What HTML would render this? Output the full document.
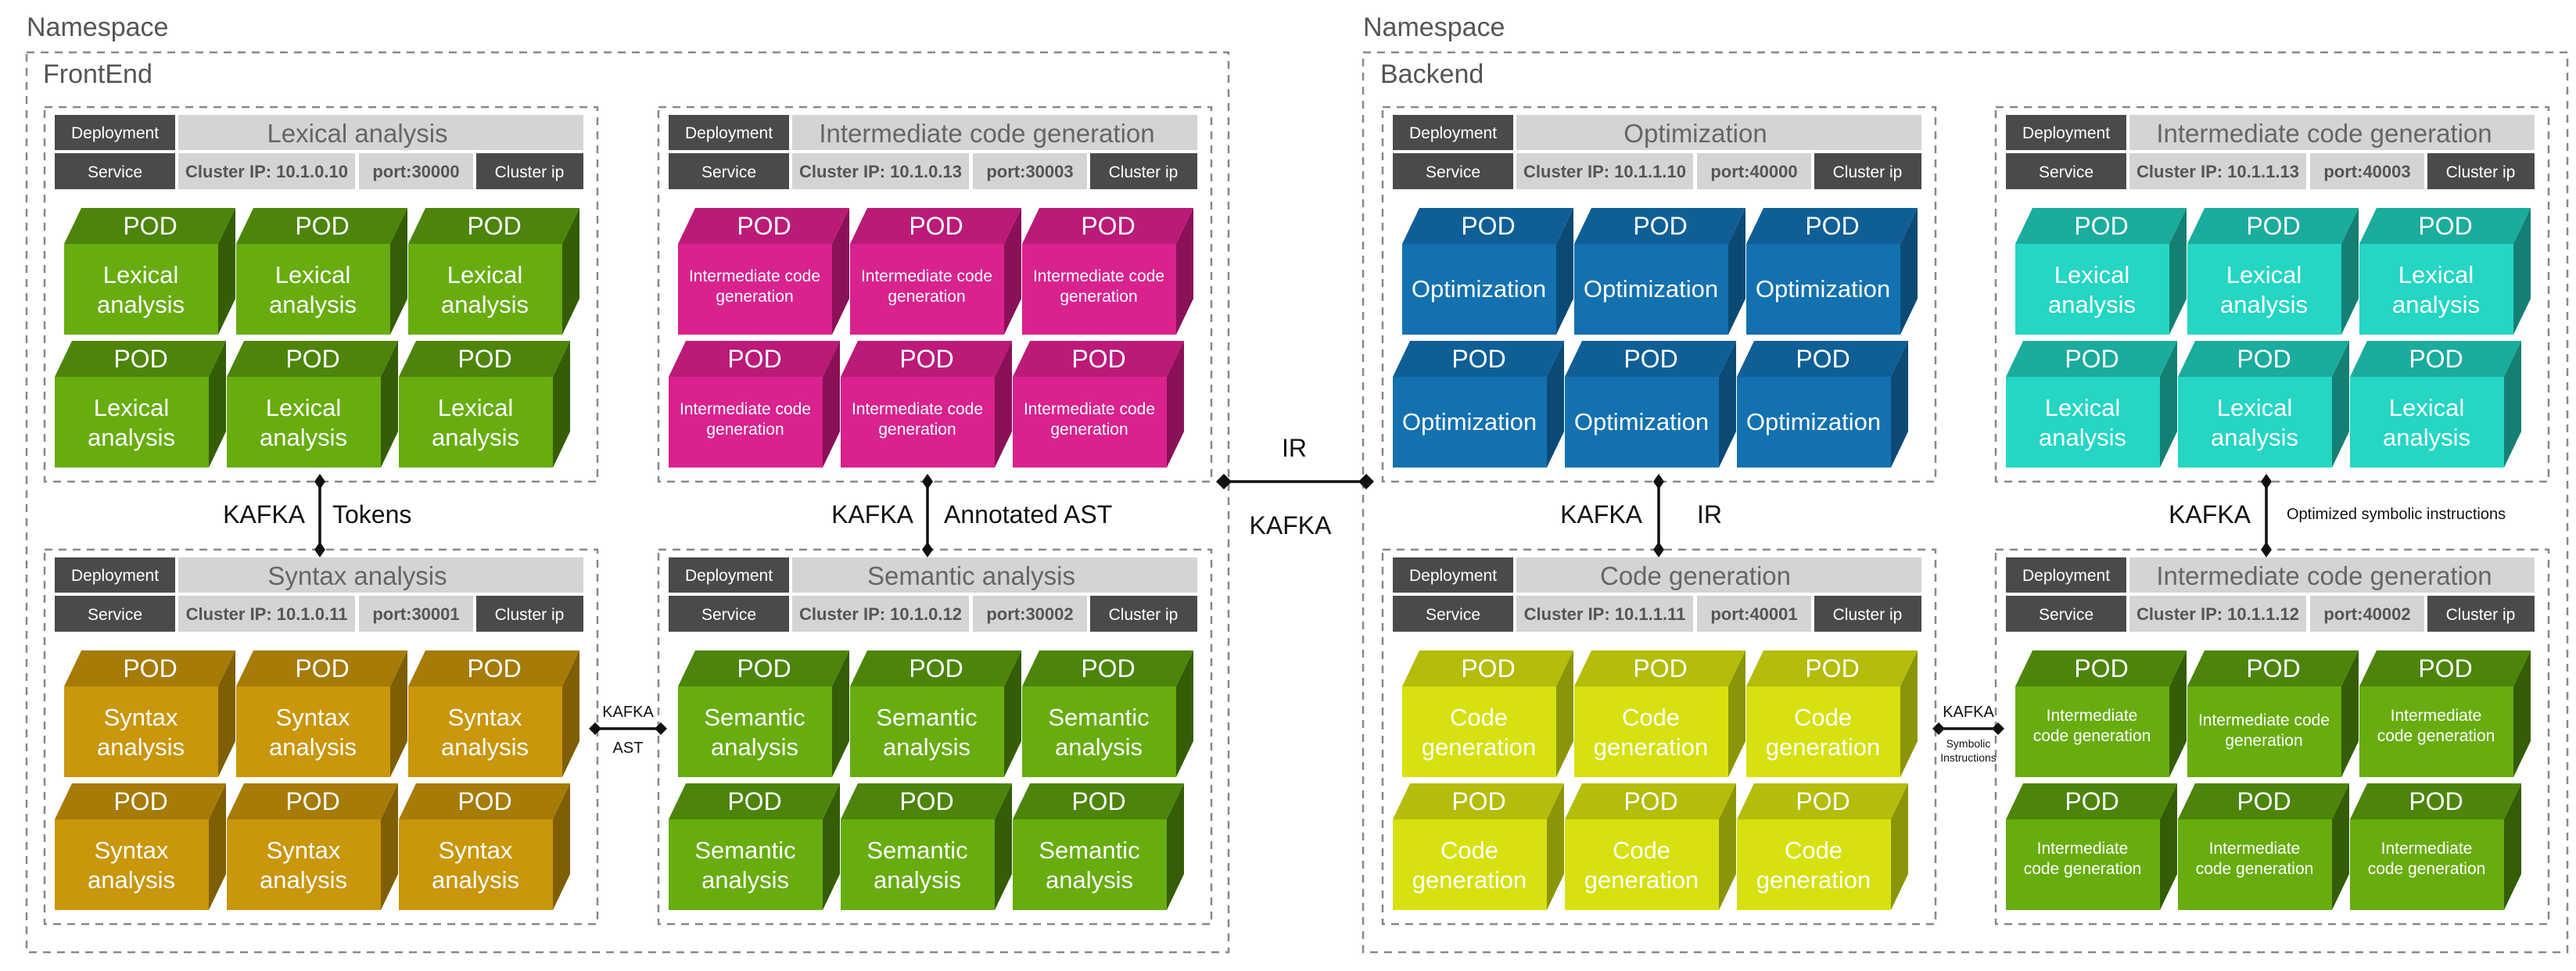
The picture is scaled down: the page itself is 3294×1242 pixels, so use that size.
<!DOCTYPE html>
<html><head><meta charset="utf-8"><style>
html,body{margin:0;padding:0;background:#fff;width:3294px;height:1242px;overflow:hidden}
svg{display:block}
text{font-family:"Liberation Sans",sans-serif}
.ns{font-size:34px;fill:#555}
.d{font-size:21px;fill:#fff;text-anchor:middle}
.t{font-size:33px;fill:#666;text-anchor:middle}
.c{font-size:22px;fill:#555;text-anchor:middle;font-weight:bold}
.p{font-size:32px;fill:#fff;text-anchor:middle}
.l{font-size:31px;fill:#fff;text-anchor:middle}
.s{font-size:21px;fill:#fff;text-anchor:middle}
.k{font-size:32px;fill:#111}
.ks{font-size:20px;fill:#111;text-anchor:middle}
.dash{fill:none;stroke:#888;stroke-width:2.5;stroke-dasharray:10 8}
.g{--f:#67ad0f;--t:#4c850a;--s:#345d06}
.m{--f:#d9228e;--t:#bb1a78;--s:#8a1058}
.y{--f:#c9960c;--t:#a67b08;--s:#7f5e05}
.b{--f:#1471b0;--t:#0f5f96;--s:#0b4a75}
.c2{--f:#24d6c3;--t:#1aac9c;--s:#148074}
.yg{--f:#d6e10f;--t:#b3bd0a;--s:#8c9507}
</style></head><body>
<svg width="3294" height="1242" viewBox="0 0 3294 1242" xmlns="http://www.w3.org/2000/svg">
<defs>
<g id="cube"><polygon points="0,0 22,-46 219,-46 197,0" style="fill:var(--t)"/><polygon points="197,0 219,-46 219,70 197,116" style="fill:var(--s)"/><rect width="197" height="116" style="fill:var(--f)"/></g>
<g id="hdr"><rect x="13" y="10" width="154" height="45" fill="#4a4a4a"/><rect x="171" y="10" width="518" height="45" fill="#d4d4d4"/><rect x="13" y="59" width="154" height="46" fill="#4a4a4a"/><rect x="171" y="59" width="226" height="46" fill="#d4d4d4"/><rect x="402" y="59" width="146" height="46" fill="#d4d4d4"/><rect x="552" y="59" width="137" height="46" fill="#4a4a4a"/><rect x="0" y="0" width="707" height="479" class="dash"/></g>
<g id="pods"><use href="#cube" x="25" y="175"/><use href="#cube" x="245" y="175"/><use href="#cube" x="465" y="175"/><use href="#cube" x="13" y="345"/><use href="#cube" x="233" y="345"/><use href="#cube" x="453" y="345"/></g>
</defs>

<text x="34" y="46" class="ns">Namespace</text>
<text x="1743" y="46" class="ns">Namespace</text>
<rect x="34" y="67" width="1537" height="1151" class="dash"/>
<rect x="1743" y="67" width="1540" height="1151" class="dash"/>
<text x="55" y="106" class="ns">FrontEnd</text>
<text x="1765" y="106" class="ns">Backend</text>

<!-- Lexical -->
<g transform="translate(57,137)" class="g">
<use href="#hdr"/><use href="#pods"/>
<text x="90" y="40" class="d">Deployment</text><text x="400" y="45" class="t">Lexical analysis</text>
<text x="90" y="90" class="d">Service</text><text x="284" y="90" class="c">Cluster IP: 10.1.0.10</text><text x="475" y="90" class="c">port:30000</text><text x="620" y="90" class="d">Cluster ip</text>
<g transform="translate(25,175)"><text x="110" y="-12" class="p">POD</text><text x="98" y="50" class="l">Lexical</text><text x="98" y="88" class="l">analysis</text></g>
<g transform="translate(245,175)"><text x="110" y="-12" class="p">POD</text><text x="98" y="50" class="l">Lexical</text><text x="98" y="88" class="l">analysis</text></g>
<g transform="translate(465,175)"><text x="110" y="-12" class="p">POD</text><text x="98" y="50" class="l">Lexical</text><text x="98" y="88" class="l">analysis</text></g>
<g transform="translate(13,345)"><text x="110" y="-12" class="p">POD</text><text x="98" y="50" class="l">Lexical</text><text x="98" y="88" class="l">analysis</text></g>
<g transform="translate(233,345)"><text x="110" y="-12" class="p">POD</text><text x="98" y="50" class="l">Lexical</text><text x="98" y="88" class="l">analysis</text></g>
<g transform="translate(453,345)"><text x="110" y="-12" class="p">POD</text><text x="98" y="50" class="l">Lexical</text><text x="98" y="88" class="l">analysis</text></g>
</g>

<!-- Intermediate FE -->
<g transform="translate(842,137)" class="m">
<use href="#hdr"/><use href="#pods"/>
<text x="90" y="40" class="d">Deployment</text><text x="420" y="45" class="t">Intermediate code generation</text>
<text x="90" y="90" class="d">Service</text><text x="284" y="90" class="c">Cluster IP: 10.1.0.13</text><text x="475" y="90" class="c">port:30003</text><text x="620" y="90" class="d">Cluster ip</text>
<g transform="translate(25,175)"><text x="110" y="-12" class="p">POD</text><text x="98" y="48" class="s">Intermediate code</text><text x="98" y="74" class="s">generation</text></g>
<g transform="translate(245,175)"><text x="110" y="-12" class="p">POD</text><text x="98" y="48" class="s">Intermediate code</text><text x="98" y="74" class="s">generation</text></g>
<g transform="translate(465,175)"><text x="110" y="-12" class="p">POD</text><text x="98" y="48" class="s">Intermediate code</text><text x="98" y="74" class="s">generation</text></g>
<g transform="translate(13,345)"><text x="110" y="-12" class="p">POD</text><text x="98" y="48" class="s">Intermediate code</text><text x="98" y="74" class="s">generation</text></g>
<g transform="translate(233,345)"><text x="110" y="-12" class="p">POD</text><text x="98" y="48" class="s">Intermediate code</text><text x="98" y="74" class="s">generation</text></g>
<g transform="translate(453,345)"><text x="110" y="-12" class="p">POD</text><text x="98" y="48" class="s">Intermediate code</text><text x="98" y="74" class="s">generation</text></g>
</g>

<!-- Syntax -->
<g transform="translate(57,703)" class="y">
<use href="#hdr"/><use href="#pods"/>
<text x="90" y="40" class="d">Deployment</text><text x="400" y="45" class="t">Syntax analysis</text>
<text x="90" y="90" class="d">Service</text><text x="284" y="90" class="c">Cluster IP: 10.1.0.11</text><text x="475" y="90" class="c">port:30001</text><text x="620" y="90" class="d">Cluster ip</text>
<g transform="translate(25,175)"><text x="110" y="-12" class="p">POD</text><text x="98" y="50" class="l">Syntax</text><text x="98" y="88" class="l">analysis</text></g>
<g transform="translate(245,175)"><text x="110" y="-12" class="p">POD</text><text x="98" y="50" class="l">Syntax</text><text x="98" y="88" class="l">analysis</text></g>
<g transform="translate(465,175)"><text x="110" y="-12" class="p">POD</text><text x="98" y="50" class="l">Syntax</text><text x="98" y="88" class="l">analysis</text></g>
<g transform="translate(13,345)"><text x="110" y="-12" class="p">POD</text><text x="98" y="50" class="l">Syntax</text><text x="98" y="88" class="l">analysis</text></g>
<g transform="translate(233,345)"><text x="110" y="-12" class="p">POD</text><text x="98" y="50" class="l">Syntax</text><text x="98" y="88" class="l">analysis</text></g>
<g transform="translate(453,345)"><text x="110" y="-12" class="p">POD</text><text x="98" y="50" class="l">Syntax</text><text x="98" y="88" class="l">analysis</text></g>
</g>

<!-- Semantic -->
<g transform="translate(842,703)" class="g">
<use href="#hdr"/><use href="#pods"/>
<text x="90" y="40" class="d">Deployment</text><text x="400" y="45" class="t">Semantic analysis</text>
<text x="90" y="90" class="d">Service</text><text x="284" y="90" class="c">Cluster IP: 10.1.0.12</text><text x="475" y="90" class="c">port:30002</text><text x="620" y="90" class="d">Cluster ip</text>
<g transform="translate(25,175)"><text x="110" y="-12" class="p">POD</text><text x="98" y="50" class="l">Semantic</text><text x="98" y="88" class="l">analysis</text></g>
<g transform="translate(245,175)"><text x="110" y="-12" class="p">POD</text><text x="98" y="50" class="l">Semantic</text><text x="98" y="88" class="l">analysis</text></g>
<g transform="translate(465,175)"><text x="110" y="-12" class="p">POD</text><text x="98" y="50" class="l">Semantic</text><text x="98" y="88" class="l">analysis</text></g>
<g transform="translate(13,345)"><text x="110" y="-12" class="p">POD</text><text x="98" y="50" class="l">Semantic</text><text x="98" y="88" class="l">analysis</text></g>
<g transform="translate(233,345)"><text x="110" y="-12" class="p">POD</text><text x="98" y="50" class="l">Semantic</text><text x="98" y="88" class="l">analysis</text></g>
<g transform="translate(453,345)"><text x="110" y="-12" class="p">POD</text><text x="98" y="50" class="l">Semantic</text><text x="98" y="88" class="l">analysis</text></g>
</g>

<!-- Optimization -->
<g transform="translate(1768,137)" class="b">
<use href="#hdr"/><use href="#pods"/>
<text x="90" y="40" class="d">Deployment</text><text x="400" y="45" class="t">Optimization</text>
<text x="90" y="90" class="d">Service</text><text x="284" y="90" class="c">Cluster IP: 10.1.1.10</text><text x="475" y="90" class="c">port:40000</text><text x="620" y="90" class="d">Cluster ip</text>
<g transform="translate(25,175)"><text x="110" y="-12" class="p">POD</text><text x="98" y="68" class="l">Optimization</text></g>
<g transform="translate(245,175)"><text x="110" y="-12" class="p">POD</text><text x="98" y="68" class="l">Optimization</text></g>
<g transform="translate(465,175)"><text x="110" y="-12" class="p">POD</text><text x="98" y="68" class="l">Optimization</text></g>
<g transform="translate(13,345)"><text x="110" y="-12" class="p">POD</text><text x="98" y="68" class="l">Optimization</text></g>
<g transform="translate(233,345)"><text x="110" y="-12" class="p">POD</text><text x="98" y="68" class="l">Optimization</text></g>
<g transform="translate(453,345)"><text x="110" y="-12" class="p">POD</text><text x="98" y="68" class="l">Optimization</text></g>
</g>

<!-- Intermediate BE top (teal) -->
<g transform="translate(2552,137)" class="c2">
<use href="#hdr"/><use href="#pods"/>
<text x="90" y="40" class="d">Deployment</text><text x="420" y="45" class="t">Intermediate code generation</text>
<text x="90" y="90" class="d">Service</text><text x="284" y="90" class="c">Cluster IP: 10.1.1.13</text><text x="475" y="90" class="c">port:40003</text><text x="620" y="90" class="d">Cluster ip</text>
<g transform="translate(25,175)"><text x="110" y="-12" class="p">POD</text><text x="98" y="50" class="l">Lexical</text><text x="98" y="88" class="l">analysis</text></g>
<g transform="translate(245,175)"><text x="110" y="-12" class="p">POD</text><text x="98" y="50" class="l">Lexical</text><text x="98" y="88" class="l">analysis</text></g>
<g transform="translate(465,175)"><text x="110" y="-12" class="p">POD</text><text x="98" y="50" class="l">Lexical</text><text x="98" y="88" class="l">analysis</text></g>
<g transform="translate(13,345)"><text x="110" y="-12" class="p">POD</text><text x="98" y="50" class="l">Lexical</text><text x="98" y="88" class="l">analysis</text></g>
<g transform="translate(233,345)"><text x="110" y="-12" class="p">POD</text><text x="98" y="50" class="l">Lexical</text><text x="98" y="88" class="l">analysis</text></g>
<g transform="translate(453,345)"><text x="110" y="-12" class="p">POD</text><text x="98" y="50" class="l">Lexical</text><text x="98" y="88" class="l">analysis</text></g>
</g>

<!-- Code generation -->
<g transform="translate(1768,703)" class="yg">
<use href="#hdr"/><use href="#pods"/>
<text x="90" y="40" class="d">Deployment</text><text x="400" y="45" class="t">Code generation</text>
<text x="90" y="90" class="d">Service</text><text x="284" y="90" class="c">Cluster IP: 10.1.1.11</text><text x="475" y="90" class="c">port:40001</text><text x="620" y="90" class="d">Cluster ip</text>
<g transform="translate(25,175)"><text x="110" y="-12" class="p">POD</text><text x="98" y="50" class="l">Code</text><text x="98" y="88" class="l">generation</text></g>
<g transform="translate(245,175)"><text x="110" y="-12" class="p">POD</text><text x="98" y="50" class="l">Code</text><text x="98" y="88" class="l">generation</text></g>
<g transform="translate(465,175)"><text x="110" y="-12" class="p">POD</text><text x="98" y="50" class="l">Code</text><text x="98" y="88" class="l">generation</text></g>
<g transform="translate(13,345)"><text x="110" y="-12" class="p">POD</text><text x="98" y="50" class="l">Code</text><text x="98" y="88" class="l">generation</text></g>
<g transform="translate(233,345)"><text x="110" y="-12" class="p">POD</text><text x="98" y="50" class="l">Code</text><text x="98" y="88" class="l">generation</text></g>
<g transform="translate(453,345)"><text x="110" y="-12" class="p">POD</text><text x="98" y="50" class="l">Code</text><text x="98" y="88" class="l">generation</text></g>
</g>

<!-- Intermediate BE bottom (green) -->
<g transform="translate(2552,703)" class="g">
<use href="#hdr"/><use href="#pods"/>
<text x="90" y="40" class="d">Deployment</text><text x="420" y="45" class="t">Intermediate code generation</text>
<text x="90" y="90" class="d">Service</text><text x="284" y="90" class="c">Cluster IP: 10.1.1.12</text><text x="475" y="90" class="c">port:40002</text><text x="620" y="90" class="d">Cluster ip</text>
<g transform="translate(25,175)"><text x="110" y="-12" class="p">POD</text><text x="98" y="44" class="s">Intermediate</text><text x="98" y="70" class="s">code generation</text></g>
<g transform="translate(245,175)"><text x="110" y="-12" class="p">POD</text><text x="98" y="50" class="s">Intermediate code</text><text x="98" y="76" class="s">generation</text></g>
<g transform="translate(465,175)"><text x="110" y="-12" class="p">POD</text><text x="98" y="44" class="s">Intermediate</text><text x="98" y="70" class="s">code generation</text></g>
<g transform="translate(13,345)"><text x="110" y="-12" class="p">POD</text><text x="98" y="44" class="s">Intermediate</text><text x="98" y="70" class="s">code generation</text></g>
<g transform="translate(233,345)"><text x="110" y="-12" class="p">POD</text><text x="98" y="44" class="s">Intermediate</text><text x="98" y="70" class="s">code generation</text></g>
<g transform="translate(453,345)"><text x="110" y="-12" class="p">POD</text><text x="98" y="44" class="s">Intermediate</text><text x="98" y="70" class="s">code generation</text></g>
</g>

<!-- Connectors -->
<g stroke="#111" stroke-width="3.5" fill="#111">
<line x1="409" y1="616" x2="409" y2="703"/>
<line x1="1186" y1="616" x2="1186" y2="703"/>
<line x1="1565" y1="616" x2="1747" y2="616"/>
<line x1="2121" y1="616" x2="2121" y2="703"/>
<line x1="2898" y1="616" x2="2898" y2="703"/>
<line x1="761" y1="932" x2="845" y2="932"/>
<line x1="2479" y1="932" x2="2555" y2="932"/>
</g>
<g fill="#111">
<polygon points="409,606 416,616 409,626 402,616"/><polygon points="409,693 416,703 409,713 402,703"/>
<polygon points="1186,606 1193,616 1186,626 1179,616"/><polygon points="1186,693 1193,703 1186,713 1179,703"/>
<polygon points="1565,606 1575,616 1565,626 1555,616"/><polygon points="1747,606 1757,616 1747,626 1737,616"/>
<polygon points="2121,606 2128,616 2121,626 2114,616"/><polygon points="2121,693 2128,703 2121,713 2114,703"/>
<polygon points="2898,606 2905,616 2898,626 2891,616"/><polygon points="2898,693 2905,703 2898,713 2891,703"/>
<polygon points="761,924 769,932 761,940 753,932"/><polygon points="845,924 853,932 845,940 837,932"/>
<polygon points="2479,924 2487,932 2479,940 2471,932"/><polygon points="2555,924 2563,932 2555,940 2547,932"/>
</g>
<text x="390" y="669" class="k" text-anchor="end">KAFKA</text>
<text x="425" y="669" class="k">Tokens</text>
<text x="1168" y="669" class="k" text-anchor="end">KAFKA</text>
<text x="1207" y="669" class="k">Annotated AST</text>
<text x="1655" y="584" class="k" text-anchor="middle">IR</text>
<text x="1650" y="683" class="k" text-anchor="middle">KAFKA</text>
<text x="2100" y="669" class="k" text-anchor="end">KAFKA</text>
<text x="2170" y="669" class="k">IR</text>
<text x="2878" y="669" class="k" text-anchor="end">KAFKA</text>
<text x="2924" y="664" style="font-size:20px;fill:#111">Optimized symbolic instructions</text>
<text x="803" y="917" class="ks">KAFKA</text>
<text x="803" y="963" class="ks">AST</text>
<text x="2517" y="917" class="ks">KAFKA</text>
<text x="2517" y="956" style="font-size:14px;fill:#111;text-anchor:middle">Symbolic</text>
<text x="2517" y="974" style="font-size:14px;fill:#111;text-anchor:middle">Instructions</text>
</svg>
</body></html>
